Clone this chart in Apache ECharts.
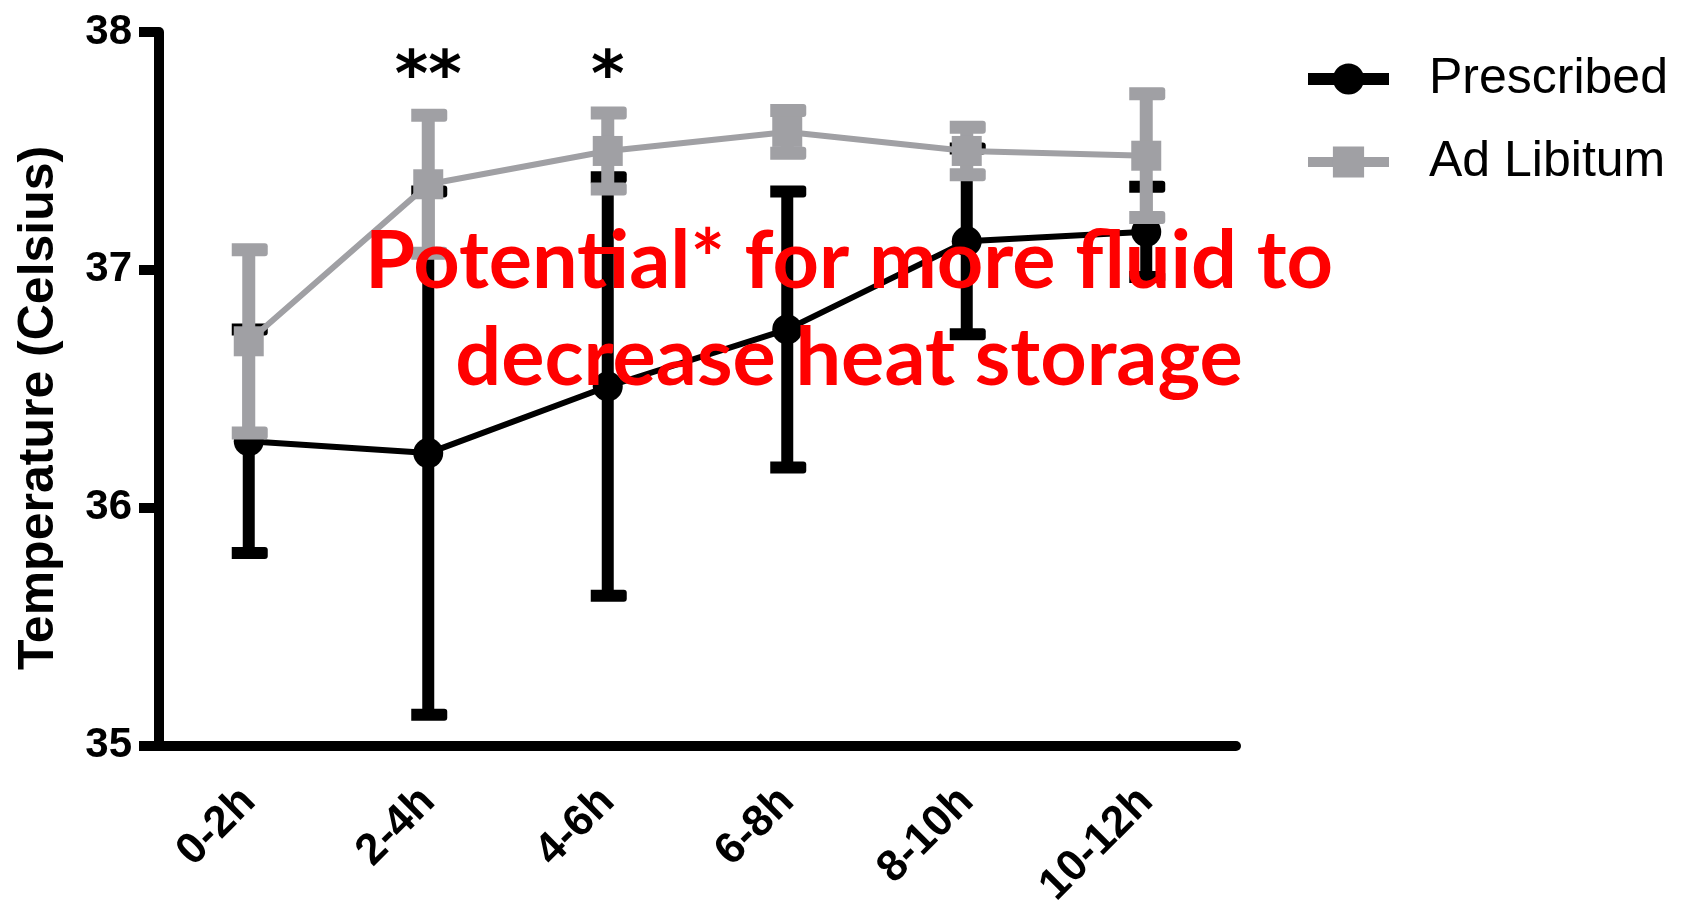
<!DOCTYPE html>
<html>
<head>
<meta charset="utf-8">
<script src="https://cdn.jsdelivr.net/npm/echarts@6/dist/echarts.min.js"></script>
<style>
html,body{margin:0;padding:0;background:#fff;}
#chart{width:1688px;height:911px;}
</style>
</head>
<body>
<div id="chart"></div>
<script>
// ---- data ----
const categories = ['0-2h', '2-4h', '4-6h', '6-8h', '8-10h', '10-12h'];
const prescribedMean = [36.28, 36.23, 36.51, 36.75, 37.12, 37.16];
const prescribedErr  = [0.47, 1.10, 0.88, 0.58, 0.39, 0.19];
const adLibMean = [36.70, 37.36, 37.50, 37.58, 37.50, 37.48];
const adLibErr  = [0.385, 0.29, 0.16, 0.09, 0.10, 0.26];
const sigLabels = ['', '**', '*', '', '', ''];
const yTicks = [35, 36, 37, 38];
const annotationLines = ['Potential* for more fluid to', 'decrease heat storage'];

const BLACK = '#000000';
const GRAY = '#a0a0a4';

function errData(mean, err) {
  return mean.map((m, i) => [i, m - err[i], m + err[i]]);
}

function errorRenderer(color, barW, capW, capH) {
  return function (params, api) {
    const x = api.value(0);
    const lo = api.coord([x, api.value(1)]);
    const hi = api.coord([x, api.value(2)]);
    return {
      type: 'group',
      children: [
        { type: 'rect', shape: { x: lo[0] - barW / 2, y: hi[1], width: barW, height: lo[1] - hi[1] }, style: { fill: color } },
        { type: 'rect', shape: { x: hi[0] - capW / 2 + 1, y: hi[1] - capH / 2, width: capW, height: capH, r: [0, 3, 3, 0] }, style: { fill: color } },
        { type: 'rect', shape: { x: lo[0] - capW / 2 + 1, y: lo[1] - capH / 2, width: capW, height: capH, r: [0, 3, 3, 0] }, style: { fill: color } }
      ]
    };
  };
}

const chart = echarts.init(document.getElementById('chart'), null, { renderer: 'canvas' });

const sigMarks = sigLabels
  .map((s, i) => (s ? { name: s, coord: [i, 37.80] } : null))
  .filter(Boolean);

const option = {
  backgroundColor: '#ffffff',
  animation: false,
  grid: { left: 159, top: 32, width: 1077, height: 721, containLabel: false },
  legend: {
    orient: 'vertical',
    left: 1302,
    top: 54,
    padding: 0,
    itemWidth: 81,
    itemHeight: 39,
    itemGap: 33,
    selectedMode: false,
    textStyle: { fontSize: 50, fontFamily: 'Liberation Sans, Arial, sans-serif', color: '#000', padding: [0, 0, 0, 35] },
    data: [
      { name: 'Prescribed', lineStyle: { width: 12 } },
      { name: 'Ad Libitum', lineStyle: { width: 10 } }
    ]
  },
  xAxis: {
    type: 'category',
    data: categories,
    boundaryGap: true,
    axisLine: { lineStyle: { color: '#000', width: 10 } },
    axisTick: { alignWithLabel: true, length: 22, lineStyle: { color: '#000', width: 8 } },
    axisLabel: {
      rotate: 45,
      margin: 49,
      fontSize: 44,
      fontWeight: 'bold',
      fontFamily: 'Liberation Sans, Arial, sans-serif',
      color: '#000'
    },
    splitLine: { show: false }
  },
  yAxis: {
    type: 'value',
    min: 35,
    max: 38,
    interval: 1,
    name: 'Temperature (Celsius)',
    nameLocation: 'middle',
    nameGap: 95,
    nameTextStyle: {
      fontSize: 50,
      fontWeight: 'bold',
      fontFamily: 'Liberation Sans, Arial, sans-serif',
      color: '#000',
      padding: [0, 38, 0, 0]
    },
    axisLine: { show: true, lineStyle: { color: '#000', width: 10 } },
    axisTick: { show: true, length: 20, lineStyle: { color: '#000', width: 10 } },
    axisLabel: {
      margin: 27,
      fontSize: 42,
      fontWeight: 'bold',
      fontFamily: 'Liberation Sans, Arial, sans-serif',
      color: '#000',
      customValues: yTicks
    },
    splitLine: { show: false }
  },
  series: [
    {
      name: 'Prescribed err',
      type: 'custom',
      z: 2,
      renderItem: errorRenderer(BLACK, 12, 36, 12),
      encode: { x: 0, y: [1, 2] },
      data: errData(prescribedMean, prescribedErr)
    },
    {
      name: 'Prescribed',
      type: 'line',
      z: 3,
      data: prescribedMean,
      symbol: 'circle',
      symbolSize: 30,
      itemStyle: { color: BLACK },
      lineStyle: { color: BLACK, width: 6 },
      markPoint: {
        symbol: 'circle',
        symbolSize: 1,
        itemStyle: { color: 'rgba(0,0,0,0)' },
        label: {
          show: true,
          position: 'inside',
          formatter: '{b}',
          fontSize: 64,
          fontWeight: 'bold',
          fontFamily: 'DejaVu Sans, sans-serif',
          color: '#000'
        },
        data: sigMarks
      }
    },
    {
      name: 'Ad Libitum err',
      type: 'custom',
      z: 4,
      renderItem: errorRenderer(GRAY, 13, 36, 13),
      encode: { x: 0, y: [1, 2] },
      data: errData(adLibMean, adLibErr)
    },
    {
      name: 'Ad Libitum',
      type: 'line',
      z: 5,
      data: adLibMean,
      symbol: 'rect',
      symbolSize: 30,
      itemStyle: { color: GRAY },
      lineStyle: { color: GRAY, width: 6 }
    }
  ],
  graphic: [
    {
      type: 'text',
      z: 100,
      style: {
        text: annotationLines[0],
        x: 849, y: 262,
        align: 'center', verticalAlign: 'middle',
        fill: '#ff0000',
        font: 'bold 81px "Lato", sans-serif'
      }
    },
    {
      type: 'text',
      z: 100,
      style: {
        text: annotationLines[1],
        x: 849, y: 359,
        align: 'center', verticalAlign: 'middle',
        fill: '#ff0000',
        font: 'bold 81px "Lato", sans-serif'
      }
    }
  ]
};

chart.setOption(option);
</script>
</body>
</html>
